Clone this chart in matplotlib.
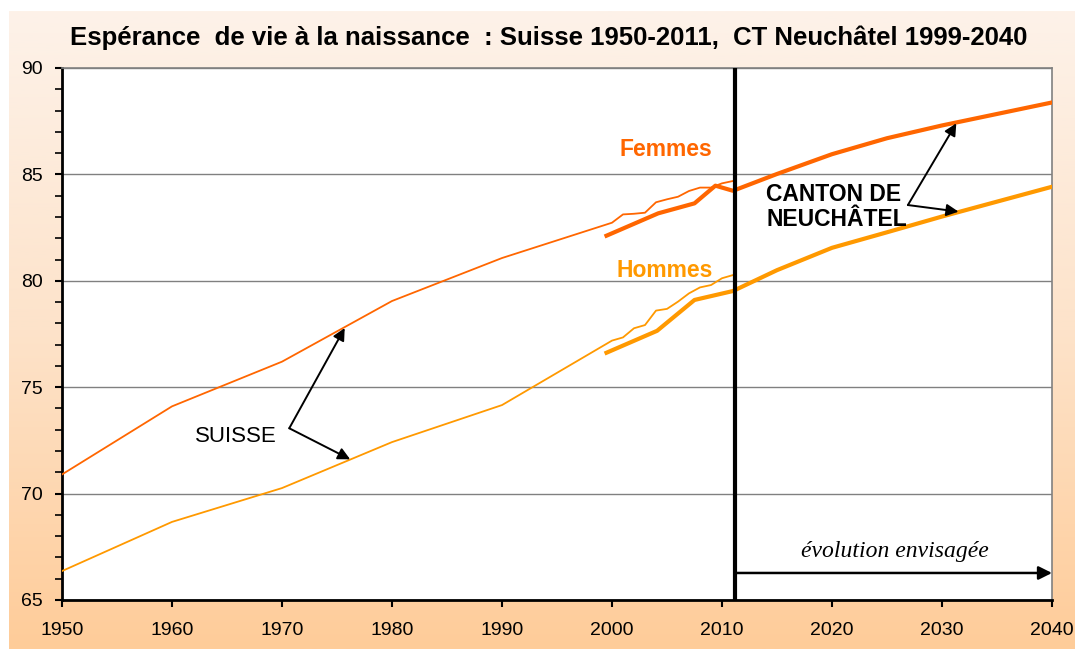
import matplotlib
matplotlib.use("Agg")
import matplotlib.pyplot as plt
from matplotlib.colors import LinearSegmentedColormap
import numpy as np

plt.rcParams["font.family"] = ["Liberation Sans", "DejaVu Sans"]

FEM = "#FF6600"
HOM = "#FF9900"

# Suisse (thin lines)
ch_years = [1950, 1960, 1970, 1980, 1990, 2000, 2001, 2002, 2003, 2004, 2005,
            2006, 2007, 2008, 2009, 2010, 2011]
ch_femmes = [70.9, 74.1, 76.2, 79.05, 81.07, 82.73, 83.12, 83.15, 83.2, 83.69,
             83.83, 83.95, 84.22, 84.38, 84.38, 84.58, 84.69]
ch_hommes = [66.36, 68.67, 70.26, 72.42, 74.16, 77.19, 77.34, 77.77, 77.92, 78.6,
             78.68, 79.02, 79.41, 79.69, 79.8, 80.12, 80.27]

# Canton de Neuchâtel (thick lines), observed + projected
ne_years_f = [1999.5, 2004.2, 2007.5, 2009.4, 2011, 2015, 2020, 2025, 2030, 2035, 2040]
ne_femmes = [82.12, 83.17, 83.64, 84.47, 84.23, 85.02, 85.95, 86.7, 87.3, 87.84, 88.38]
ne_years_h = [1999.5, 2004.1, 2007.5, 2011, 2015, 2020, 2025, 2030, 2035, 2040]
ne_hommes = [76.62, 77.65, 79.1, 79.52, 80.5, 81.55, 82.28, 83.02, 83.72, 84.42]

fig = plt.figure(figsize=(10.75, 6.52), dpi=100)
fig.patch.set_facecolor("white")

# peach gradient panel behind everything
bg = fig.add_axes([9 / 1075, 3 / 652, 1066 / 1075, 638 / 652], zorder=0)
cmap = LinearSegmentedColormap.from_list("peach", ["#FDF2E9", "#FDE3CA", "#FFCC99"])
grad = np.linspace(0, 1, 256).reshape(-1, 1)
bg.imshow(grad, aspect="auto", cmap=cmap, extent=[0, 1, 0, 1], origin="upper")
bg.set_axis_off()

ax = fig.add_axes([62 / 1075, 52 / 652, 990 / 1075, 532 / 652], zorder=1)
ax.set_facecolor("white")

ax.plot(ch_years, ch_femmes, color=FEM, lw=1.3, zorder=3)
ax.plot(ch_years, ch_hommes, color=HOM, lw=1.3, zorder=3)
ax.plot(ne_years_f, ne_femmes, color=FEM, lw=3.0, zorder=3)
ax.plot(ne_years_h, ne_hommes, color=HOM, lw=3.0, zorder=3)

ax.set_xlim(1950, 2040)
ax.set_ylim(65, 90)
ax.set_xticks(range(1950, 2041, 10))
ax.set_yticks(range(65, 91, 5))
ax.set_yticks(range(65, 91, 1), minor=True)
ax.yaxis.grid(True, color="#808080", lw=1.0)
ax.set_axisbelow(True)
ax.tick_params(axis="both", labelsize=14, direction="out", width=1.5, length=5,
               colors="black")
ax.tick_params(axis="y", which="minor", length=5, width=1.2)
ax.tick_params(axis="y", pad=9)
ax.tick_params(axis="x", pad=11)
for s in ("top", "right"):
    ax.spines[s].set_color("#808080")
    ax.spines[s].set_linewidth(1.2)
for s in ("left", "bottom"):
    ax.spines[s].set_color("black")
    ax.spines[s].set_linewidth(2.0)

# separation observed / projected
ax.axvline(2011.2, color="black", lw=3, zorder=4)
ax.annotate("", xy=(2040, 66.27), xytext=(2011.3, 66.27),
            arrowprops=dict(arrowstyle="-|>", color="black", lw=1.8,
                            mutation_scale=20, shrinkA=0, shrinkB=0), zorder=5)
ax.text(2025.7, 67.3, "évolution envisagée", family="Liberation Serif",
        style="italic", fontsize=17, ha="center", va="center")

ax.text(2004.9, 86.15, "Femmes", color=FEM, fontsize=16.5, weight="bold",
        ha="center", va="center")
ax.text(2004.8, 80.5, "Hommes", color=HOM, fontsize=16.5, weight="bold",
        ha="center", va="center")

arr = dict(arrowstyle="-|>", color="black", lw=1.4, mutation_scale=18,
           shrinkA=0, shrinkB=0)
ax.text(1962.1, 72.66, "SUISSE", fontsize=16, ha="left", va="center")
ax.annotate("", xy=(1975.7, 77.78), xytext=(1970.66, 73.07), arrowprops=arr)
ax.annotate("", xy=(1976.2, 71.61), xytext=(1970.66, 73.07), arrowprops=arr)

ax.text(2014.0, 83.45, "CANTON DE\nNEUCHÂTEL", fontsize=16.5, weight="bold",
        ha="left", va="center", linespacing=1.1)
ax.annotate("", xy=(2031.3, 87.4), xytext=(2026.9, 83.56), arrowprops=arr)
ax.annotate("", xy=(2031.5, 83.25), xytext=(2026.9, 83.56), arrowprops=arr)

fig.text(549 / 1075, 1 - 38 / 652,
         "Espérance  de vie à la naissance  : Suisse 1950-2011,  CT Neuchâtel 1999-2040",
         fontsize=18.5, weight="bold", ha="center", va="center")

fig.savefig("out.png", dpi=100)
